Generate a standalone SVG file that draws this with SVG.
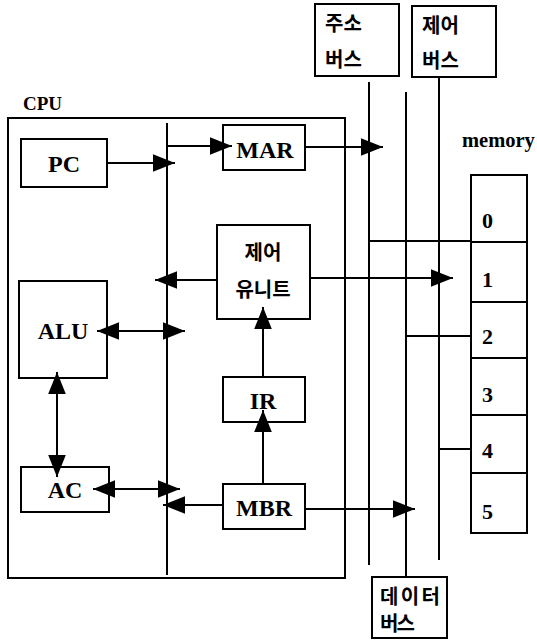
<svg xmlns="http://www.w3.org/2000/svg" width="537" height="642" viewBox="0 0 537 642">
<style>
.box{fill:#fff;stroke:#000;stroke-width:2}
.ln{fill:none;stroke:#000;stroke-width:2}
.en{font-family:"Liberation Serif","Times New Roman",serif;font-weight:700;font-size:24px;fill:#000;text-anchor:middle}
.num{font-family:"Liberation Serif","Times New Roman",serif;font-weight:700;font-size:22px;fill:#000}
.ko{font-family:"Noto Sans CJK KR","Noto Sans CJK SC",sans-serif;font-weight:700;font-size:20px;fill:#000}
</style>
<defs>
<marker id="ah" markerUnits="userSpaceOnUse" markerWidth="22" markerHeight="18" refX="20" refY="8" orient="auto-start-reverse" viewBox="0 0 20 16">
<path d="M0,0 L20,8 L0,16 Z" fill="#000"/>
</marker>
</defs>
<rect width="537" height="642" fill="#fff"/>

<g id="cpu">
<text x="23" y="110" font-family="Liberation Serif,serif" font-weight="700" font-size="19">CPU</text>
<rect class="box" x="8" y="118" width="337" height="460" fill="none"/>
</g>

<g id="internal-bus"><line class="ln" x1="167" y1="123" x2="167" y2="575"/></g>

<g id="pc"><rect class="box" x="21" y="139" width="86" height="48"/><text class="en" x="64" y="172">PC</text></g>
<g id="mar"><rect class="box" x="223" y="125" width="82" height="45"/><text class="en" x="265" y="158">MAR</text></g>
<g id="control-unit"><rect class="box" x="217" y="225" width="93" height="94"/>
<text class="ko" x="263" y="260" text-anchor="middle">제어</text>
<text class="ko" x="263" y="297" text-anchor="middle" font-size="22">유니트</text></g>
<g id="alu"><rect class="box" x="19" y="281" width="88" height="97"/><text class="en" x="63" y="339">ALU</text></g>
<g id="ir"><rect class="box" x="223" y="377" width="82" height="45"/><text class="en" x="263" y="409">IR</text></g>
<g id="ac"><rect class="box" x="21" y="467" width="88" height="45"/><text class="en" x="65" y="498">AC</text></g>
<g id="mbr"><rect class="box" x="223" y="484" width="82" height="45"/><text class="en" x="264" y="516">MBR</text></g>

<g id="address-bus"><rect class="box" x="315" y="4" width="84" height="72"/>
<text class="ko" x="325" y="31">주소</text>
<text class="ko" x="325" y="67">버스</text></g>
<g id="control-bus"><rect class="box" x="412" y="6" width="84" height="71"/>
<text class="ko" x="422" y="33">제어</text>
<text class="ko" x="422" y="68">버스</text></g>
<g id="data-bus"><rect class="box" x="372" y="577" width="75" height="61"/>
<text class="ko" x="380" y="604" font-size="16" textLength="60">데이터</text>
<text class="ko" x="380" y="631" font-size="16" textLength="35">버스</text></g>

<g id="memory">
<text x="462" y="147" font-family="Liberation Serif,serif" font-weight="700" font-size="20.5">memory</text>
<rect class="box" x="471" y="175" width="56" height="67"/>
<rect class="box" x="471" y="242" width="56" height="60"/>
<rect class="box" x="471" y="302" width="56" height="56"/>
<rect class="box" x="471" y="358" width="56" height="57"/>
<rect class="box" x="471" y="415" width="56" height="58"/>
<rect class="box" x="471" y="473" width="56" height="60"/>
<text class="num" x="482" y="228">0</text>
<text class="num" x="482" y="287">1</text>
<text class="num" x="482" y="344">2</text>
<text class="num" x="482" y="402">3</text>
<text class="num" x="482" y="458">4</text>
<text class="num" x="482" y="519">5</text>
</g>

<g id="connectors">
<line class="ln" x1="369" y1="82" x2="369" y2="565"/>
<line class="ln" x1="406" y1="92" x2="406" y2="577"/>
<line class="ln" x1="439" y1="77" x2="439" y2="560"/>
<line class="ln" x1="369" y1="241" x2="471" y2="241"/>
<line class="ln" x1="406" y1="336" x2="471" y2="336"/>
<line class="ln" x1="439" y1="449" x2="471" y2="449"/>
<line class="ln" x1="107" y1="163" x2="175" y2="163" marker-end="url(#ah)"/>
<line class="ln" x1="167" y1="146" x2="232" y2="146" marker-end="url(#ah)"/>
<line class="ln" x1="305" y1="147" x2="383" y2="147" marker-end="url(#ah)"/>
<line class="ln" x1="217" y1="280" x2="155" y2="280" marker-end="url(#ah)"/>
<line class="ln" x1="310" y1="278" x2="453" y2="278" marker-end="url(#ah)"/>
<line class="ln" x1="97" y1="331" x2="185" y2="331" marker-start="url(#ah)" marker-end="url(#ah)"/>
<line class="ln" x1="57" y1="372" x2="57" y2="477" marker-start="url(#ah)" marker-end="url(#ah)"/>
<line class="ln" x1="93" y1="489" x2="180" y2="489" marker-start="url(#ah)" marker-end="url(#ah)"/>
<line class="ln" x1="223" y1="505" x2="163" y2="505" marker-end="url(#ah)"/>
<line class="ln" x1="263" y1="484" x2="263" y2="410" marker-end="url(#ah)"/>
<line class="ln" x1="263" y1="377" x2="263" y2="307" marker-end="url(#ah)"/>
<line class="ln" x1="305" y1="509" x2="415" y2="509" marker-end="url(#ah)"/>
</g>
</svg>
